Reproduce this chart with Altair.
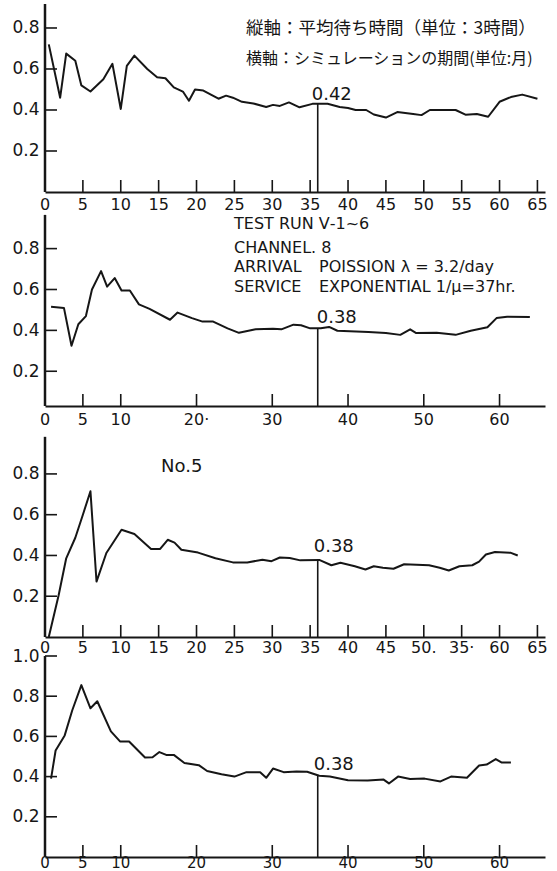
import altair as alt
import pandas as pd

INK = "#161616"
LATIN = "DejaVu Sans"
CJK = "Noto Sans CJK JP"

# ---------------- data ----------------
p1_month = [0.5, 2.0, 2.8, 4.0, 4.8, 6.0, 7.7, 8.9, 10.0, 10.8, 11.8, 13.5, 14.8, 15.9, 17.0,
            18.2, 19.0, 19.8, 20.9, 22.9, 23.9, 24.8, 26.0, 27.5, 29.2, 30.1, 31.0, 32.2, 33.6,
            35.3, 37.3, 38.9, 40.0, 41.0, 42.4, 43.4, 45.0, 46.5, 48.6, 49.7, 50.8, 54.2, 55.5,
            57.0, 58.5, 60.0, 61.5, 63.0, 65.0]
p1_wait = [0.72, 0.46, 0.675, 0.64, 0.52, 0.49, 0.55, 0.625, 0.405, 0.615, 0.665, 0.60, 0.56,
           0.555, 0.51, 0.49, 0.445, 0.50, 0.495, 0.455, 0.47, 0.46, 0.44, 0.432, 0.415, 0.425,
           0.42, 0.437, 0.413, 0.43, 0.43, 0.415, 0.41, 0.40, 0.40, 0.378, 0.363, 0.39, 0.38,
           0.375, 0.40, 0.40, 0.377, 0.38, 0.367, 0.44, 0.463, 0.475, 0.455]

p2_month = [0.8, 2.5, 3.5, 4.4, 5.4, 6.2, 7.4, 8.2, 9.2, 10.1, 11.2, 12.4, 13.8, 16.5, 17.5,
            19.4, 20.8, 22.2, 24.1, 25.6, 27.8, 30.1, 31.2, 32.8, 33.8, 35.0, 36.4, 37.5, 38.6,
            42.7, 45.0, 46.9, 48.2, 49.0, 51.7, 54.2, 56.2, 58.4, 59.6, 61.0, 64.0]
p2_wait = [0.515, 0.51, 0.325, 0.43, 0.47, 0.60, 0.69, 0.614, 0.656, 0.595, 0.595, 0.527, 0.505,
           0.452, 0.487, 0.46, 0.443, 0.443, 0.41, 0.388, 0.405, 0.408, 0.405, 0.428, 0.425,
           0.41, 0.41, 0.417, 0.398, 0.392, 0.387, 0.378, 0.405, 0.387, 0.388, 0.378, 0.398,
           0.415, 0.46, 0.467, 0.465]

p3_month = [0.5, 1.8, 2.8, 4.0, 5.0, 6.0, 6.8, 8.1, 10.1, 11.8, 14.0, 15.2, 16.2, 17.1, 18.0,
            20.2, 22.5, 24.8, 26.7, 28.7, 29.9, 31.0, 32.3, 33.7, 36.2, 37.8, 39.0, 40.9, 42.3,
            43.4, 44.6, 46.0, 47.4, 50.7, 52.1, 53.3, 54.7, 56.4, 57.3, 58.2, 59.4, 61.5, 62.4]
p3_wait = [0.0, 0.205, 0.386, 0.487, 0.60, 0.715, 0.272, 0.412, 0.526, 0.505, 0.432, 0.432,
           0.477, 0.463, 0.428, 0.414, 0.386, 0.366, 0.366, 0.379, 0.372, 0.39, 0.388, 0.376,
           0.378, 0.352, 0.364, 0.347, 0.331, 0.347, 0.34, 0.335, 0.357, 0.352, 0.34, 0.326,
           0.347, 0.352, 0.37, 0.405, 0.417, 0.413, 0.40]

p4_month = [0.8, 1.4, 2.6, 3.6, 4.8, 6.0, 6.9, 8.7, 9.9, 11.1, 13.2, 14.2, 15.1, 16.0, 17.0,
            18.4, 20.3, 21.4, 23.3, 25.0, 26.6, 28.4, 29.2, 30.1, 31.5, 33.2, 34.6, 36.2, 37.6,
            40.0, 42.6, 44.7, 45.4, 46.6, 48.2, 50.1, 52.2, 53.6, 55.7, 57.3, 58.3, 59.5, 60.3,
            61.5]
p4_wait = [0.39, 0.53, 0.605, 0.73, 0.855, 0.74, 0.775, 0.625, 0.575, 0.575, 0.495, 0.496, 0.522,
           0.508, 0.508, 0.468, 0.457, 0.428, 0.412, 0.40, 0.422, 0.422, 0.394, 0.44, 0.422,
           0.425, 0.424, 0.404, 0.40, 0.382, 0.381, 0.385, 0.366, 0.40, 0.388, 0.39, 0.376,
           0.40, 0.394, 0.455, 0.46, 0.487, 0.47, 0.47]

ticks_fine = [0, 5, 10, 15, 20, 25, 30, 35, 40, 45, 50, 55, 60, 65]
ticks_coarse = [0, 5, 10, 20, 30, 40, 50, 60]
p1_xlabels = ["0", "5", "10", "15", "20", "25", "30", "35", "40", "45", "50", "55", "60", "65"]
p2_xlabels = ["0", "5", "10", "20·", "30", "40", "50", "60"]
p3_xlabels = ["0", "5", "10", "15", "20", "25", "30", "35", "40", "45", "50.", "35·", "60", "65"]
p4_xlabels = ["0", "5", "10", "20", "30", "40", "50", "60"]
y_ticks_a = [0.2, 0.4, 0.6, 0.8]
y_ticks_b = [0.2, 0.4, 0.6, 0.8, 1.0]

# top end of each vertical axis line and bottom of each value scale
axis_top = [0.917, 0.965, 0.982, 1.0]
axis_floor = [0.0, 0.03, 0.0, 0.0]

mark_month = 36
mark_level = [0.43, 0.41, 0.378, 0.404]
mark_text = ["0.42", "0.38", "0.38", "0.38"]

note_p1 = ["縦軸：平均待ち時間（単位：3時間）", "横軸：シミュレーションの期間(単位:月)"]
note_p2 = ["TEST RUN Ⅴ-1~6", "CHANNEL. 8", "ARRIVAL", "POISSION λ = 3.2/day",
           "SERVICE", "EXPONENTIAL 1/μ=37hr."]
note_p3 = ["No.5"]

# ---------------- layout ----------------
W = 500
XMAX = 66


def note(text, x, y, font, size):
    return alt.Chart(pd.DataFrame({"t": [text]})).mark_text(
        align="left", baseline="middle", font=font, fontSize=size, color=INK
    ).encode(text="t:N", x=alt.value(x), y=alt.value(y))


def panel(months, waits, ydom, h, ytop, xvals, xtexts, yvals, level, ltext, ldx, ldy,
          notes, lab_off=13, lab_size=16):
    df = pd.DataFrame({"month": months, "wait": waits})
    xs = alt.Scale(domain=[0, XMAX], nice=False, zero=False)
    ys = alt.Scale(domain=ydom, nice=False, zero=False)
    xaxis = alt.Axis(labels=False, ticks=False, grid=False, domainColor=INK, domainWidth=2,
                     title=None)
    yaxis = alt.Axis(values=yvals, format=".1f", ticks=False, grid=False, domain=False,
                     labelColor=INK, labelFont=LATIN, labelFontSize=17, labelPadding=6,
                     labelFlush=False, labelOverlap=False, title=None)

    line = alt.Chart(df).mark_line(color=INK, strokeWidth=2, strokeJoin="round").encode(
        x=alt.X("month:Q", scale=xs, axis=xaxis),
        y=alt.Y("wait:Q", scale=ys, axis=yaxis),
    )
    yline = alt.Chart(pd.DataFrame({"wait": [ytop], "lo": [ydom[0]]})).mark_rule(
        color=INK, strokeWidth=2.5
    ).encode(y=alt.Y("wait:Q", scale=ys), y2="lo:Q", x=alt.value(0))
    xt = alt.Chart(pd.DataFrame({"month": [v for v in xvals if v > 0]})).mark_rule(
        color=INK, strokeWidth=1.6
    ).encode(x=alt.X("month:Q", scale=xs), y=alt.value(h), y2=alt.value(h - 12))
    xl = alt.Chart(pd.DataFrame({"month": xvals, "lab": xtexts})).mark_text(
        align="center", baseline="middle", font=LATIN, fontSize=lab_size, color=INK
    ).encode(x=alt.X("month:Q", scale=xs), y=alt.value(h + lab_off), text="lab:N")
    yt = alt.Chart(pd.DataFrame({"wait": yvals})).mark_rule(
        color=INK, strokeWidth=1.6
    ).encode(y=alt.Y("wait:Q", scale=ys), x=alt.value(0), x2=alt.value(12))
    mdf = pd.DataFrame({"month": [mark_month], "wait": [level], "lo": [ydom[0]],
                        "lab": [ltext]})
    mrule = alt.Chart(mdf).mark_rule(color=INK, strokeWidth=1.6).encode(
        x=alt.X("month:Q", scale=xs), y=alt.Y("wait:Q", scale=ys), y2="lo:Q")
    mlab = alt.Chart(mdf).mark_text(
        align="left", baseline="middle", font=LATIN, fontSize=18, color=INK, dx=ldx, dy=ldy
    ).encode(x=alt.X("month:Q", scale=xs), y=alt.Y("wait:Q", scale=ys), text="lab:N")

    layers = [line, yline, xt, xl, yt, mrule, mlab] + notes
    return alt.layer(*layers).properties(width=W, height=h)


c1 = panel(p1_month, p1_wait, [axis_floor[0], 0.917], 188, axis_top[0], ticks_fine, p1_xlabels,
           y_ticks_a, mark_level[0], mark_text[0], -6, -9,
           [note(note_p1[0], 201, 25, CJK, 17.5), note(note_p1[1], 201, 55, CJK, 16)],
           lab_off=13, lab_size=16)
c2 = panel(p2_month, p2_wait, [axis_floor[1], 0.984], 195, axis_top[1], ticks_coarse,
           p2_xlabels, y_ticks_a, mark_level[1], mark_text[1], -1, -10,
           [note(note_p2[0], 189, 13, LATIN, 16), note(note_p2[1], 189, 37, LATIN, 16),
            note(note_p2[2], 189, 56, LATIN, 16), note(note_p2[3], 274, 56, LATIN, 16),
            note(note_p2[4], 189, 76, LATIN, 16), note(note_p2[5], 274, 76, LATIN, 16)],
           lab_off=14, lab_size=16)
c3 = panel(p3_month, p3_wait, [axis_floor[2], 1.04], 212, axis_top[2], ticks_fine, p3_xlabels,
           y_ticks_a, mark_level[2], mark_text[2], -4, -13,
           [note(note_p3[0], 116, 42, LATIN, 18)],
           lab_off=11, lab_size=16)
c4 = panel(p4_month, p4_wait, [axis_floor[3], 1.0], 201, axis_top[3], ticks_coarse,
           p4_xlabels, y_ticks_b, mark_level[3], mark_text[3], -4, -11,
           [], lab_off=6, lab_size=15)

chart = alt.vconcat(c1, c2, c3, c4, spacing=19, bounds="flush").properties(
    padding={"left": 11, "top": 2, "right": 0, "bottom": 0},
    background="white",
).configure_view(stroke=None)

chart.save("out.html", embed_options={"renderer": "svg", "actions": False})
